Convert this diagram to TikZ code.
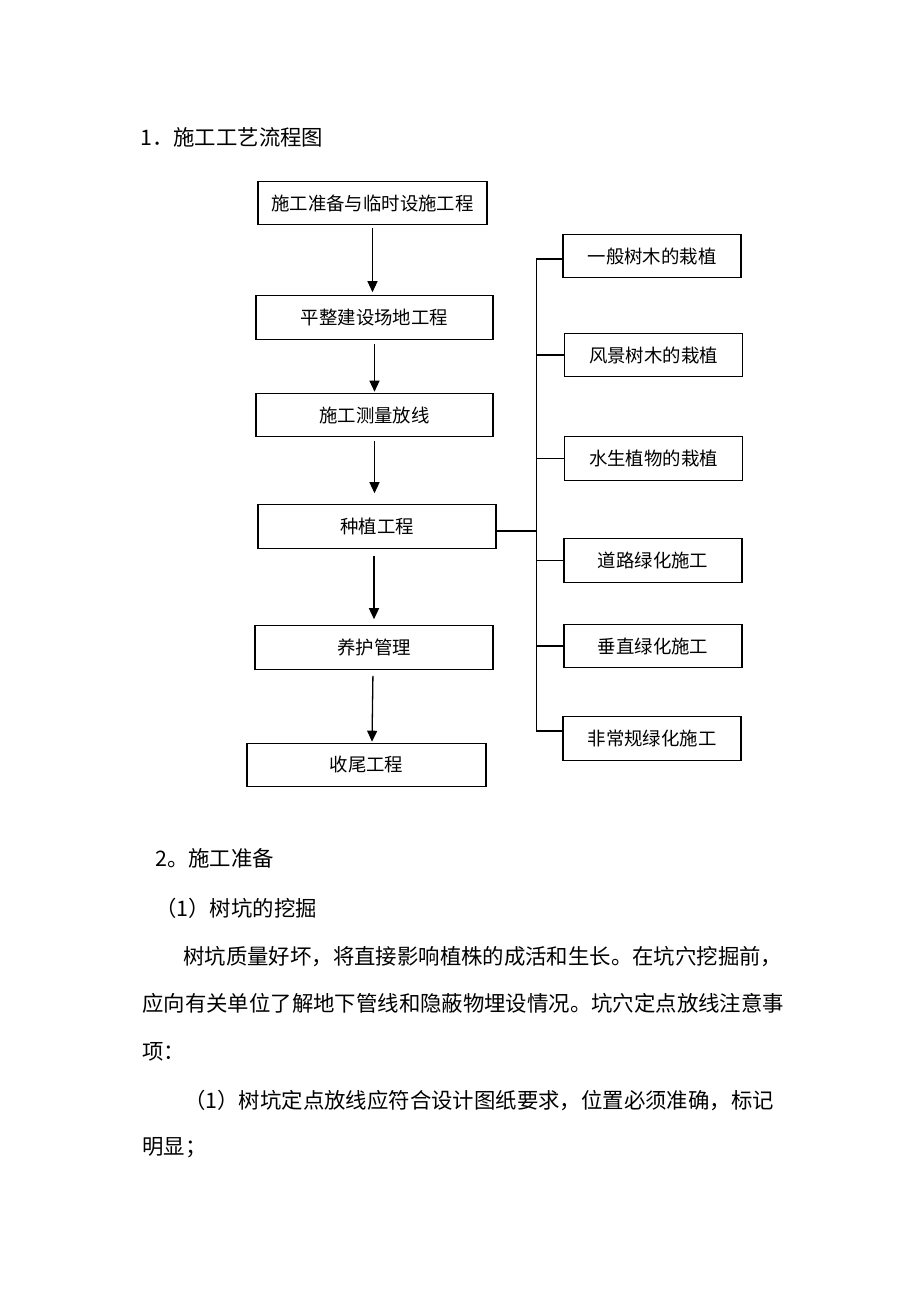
\documentclass[tikz,border=0pt]{standalone}
\usepackage{fontspec}
\usepackage{tikz}
\usetikzlibrary{arrows.meta}
\newfontfamily\cjk{Noto Sans CJK SC}
\tikzset{
    procbox/.style={draw=black, line width=1.1pt, minimum height=43.5pt, inner sep=0pt, font=\cjk\fontsize{18.4}{20}\selectfont},
    leafbox/.style={procbox, minimum width=178pt},
    flow/.style={line width=1.3pt, -{Triangle[length=11pt,width=10pt]}},
    branch/.style={line width=1.1pt},
    bodytext/.style={anchor=west, inner sep=0pt, font=\cjk\fontsize{21.4}{24}\selectfont}}

\begin{document}
\begin{tikzpicture}[x=1pt, y=-1pt]
                \useasboundingbox (0,0) rectangle (920,1302);

                    \node[bodytext] (T1) at (140,137) {1．施工工艺流程图};

                    \node[procbox, minimum width=229pt] (A) at (372.5,203) {施工准备与临时设施工程};
                    \node[procbox, minimum width=237pt] (B) at (374.5,317.5) {平整建设场地工程};
                    \node[procbox, minimum width=237pt] (C) at (374.5,415) {施工测量放线};
                    \node[procbox, minimum width=238pt] (D) at (377,526.5) {种植工程};
                    \node[procbox, minimum width=238pt] (E) at (374,647.5) {养护管理};
                    \node[procbox, minimum width=239pt] (F) at (366.5,765) {收尾工程};

                    \node[leafbox] (R1) at (652,256) {一般树木的栽植};
                    \node[leafbox] (R2) at (653.5,355) {风景树木的栽植};
                    \node[leafbox] (R3) at (653.5,458.5) {水生植物的栽植};
                    \node[leafbox] (R4) at (653,560.5) {道路绿化施工};
                    \node[leafbox] (R5) at (653,646) {垂直绿化施工};
                    \node[leafbox] (R6) at (652,738.5) {非常规绿化施工};

                    \draw[flow, shorten <=3pt, shorten >=3pt] (A.south) -- (A.south |- B.north);
                    \draw[flow, shorten <=4pt, shorten >=1pt] (B.south) -- (B.south |- C.north);
                    \draw[flow, shorten <=4pt, shorten >=11pt] (C.south) -- (C.south |- D.north);
                    \draw[flow, shorten <=7pt, shorten >=6pt] ([xshift=-3pt]D.south) -- ([xshift=-3pt]D.south |- E.north);
                    \draw[flow, shorten <=6pt, shorten >=1pt] ([xshift=-1pt]E.south) -- ([xshift=-2pt]E.south |- F.north);

                    \draw[branch] ([yshift=-3pt]R1.west) -- ++(-26,0) coordinate (bus) |- ([yshift=7.5pt]R6.west);
                    \foreach \leaf in {R2,R3,R4,R5}
                        \draw[branch] (\leaf.west) -- (\leaf.west -| bus);
                    \draw[branch] ([yshift=-4.5pt]D.east) -- ([yshift=-4.5pt]D.east -| bus);

                    \node[bodytext] (T2) at (155,858) {2。施工准备};
                    \node[bodytext] (S1) at (155,908) {（1）树坑的挖掘};
                    \node[bodytext] (P1) at (183,957) {树坑质量好坏，将直接影响植株的成活和生长。在坑穴挖掘前，};
                    \node[bodytext] (P2) at (142,1003) {应向有关单位了解地下管线和隐蔽物埋设情况。坑穴定点放线注意事};
                    \node[bodytext] (P3) at (142,1052) {项：};
                    \node[bodytext] (P4) at (184,1100) {（1）树坑定点放线应符合设计图纸要求，位置必须准确，标记};
                    \node[bodytext] (P5) at (142,1148) {明显；};

                \end{tikzpicture}
\end{document}
